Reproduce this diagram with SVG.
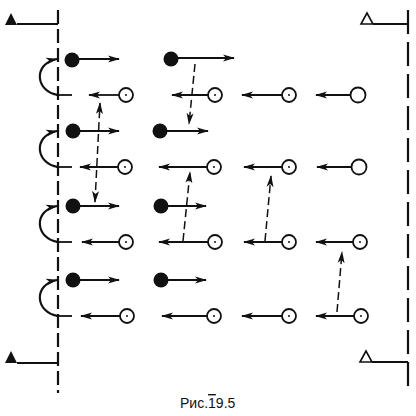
<svg xmlns="http://www.w3.org/2000/svg" width="416" height="416" viewBox="0 0 416 416">
<defs>
<marker id="ah" viewBox="0 0 12 8" refX="11" refY="4" markerWidth="12" markerHeight="8" markerUnits="userSpaceOnUse" orient="auto-start-reverse">
<path d="M0,0.5 L12,4 L0,7.5 L3,4 Z" fill="#111"/>
</marker>
</defs>
<style>
.bg{fill:#fff}
.axis{stroke:#111;stroke-width:2.2;fill:none}
.ar{stroke:#111;stroke-width:1.8;fill:none;marker-end:url(#ah)}
.da{stroke:#111;stroke-width:1.5;fill:none;stroke-dasharray:8 4;marker-end:url(#ah)}
.cv{stroke:#111;stroke-width:2.2;fill:none;marker-end:url(#ah)}
.tk{stroke:#111;stroke-width:1.8}
.fc{fill:#111}
.oc{fill:#fff;stroke:#111;stroke-width:1.8}
.dot{fill:#111}
.lbl{font-family:"Liberation Sans",Arial,sans-serif;font-size:14px;fill:#111}
</style>
<rect class="bg" width="416" height="416"/>
<g id="section-lines">
<line class="axis" x1="58" y1="10" x2="58" y2="393" stroke-dasharray="14 5"/>
<line class="axis" x1="408" y1="10" x2="408" y2="393" stroke-dasharray="24 8"/>
<line class="tk" x1="17" y1="24" x2="58" y2="24"/>
<path d="M5,25 L11,13 L17,25 Z" fill="#111"/>
<line class="tk" x1="17" y1="363" x2="58" y2="363"/>
<path d="M5,363 L11,351 L17,363 Z" fill="#111"/>
<line class="tk" x1="373" y1="24" x2="408" y2="24"/>
<path d="M361,24 L367,13 L373,24 Z" fill="none" stroke="#111" stroke-width="1.6"/>
<line class="tk" x1="372" y1="362" x2="408" y2="362"/>
<path d="M360,362 L366,351 L372,362 Z" fill="none" stroke="#111" stroke-width="1.6"/>
</g>
<g id="connectors">
<!-- horizontal arrows, filled rows -->
<line class="ar" x1="79" y1="59" x2="119" y2="59"/>
<line class="ar" x1="178" y1="58" x2="234" y2="58"/>
<line class="ar" x1="80" y1="131" x2="119" y2="131"/>
<line class="ar" x1="167" y1="131" x2="208" y2="131"/>
<line class="ar" x1="80" y1="206" x2="119" y2="206"/>
<line class="ar" x1="168" y1="206" x2="206" y2="206"/>
<line class="ar" x1="80" y1="280" x2="119" y2="280"/>
<line class="ar" x1="168" y1="280" x2="206" y2="280"/>
<!-- horizontal arrows, open rows -->
<line class="ar" x1="119" y1="95" x2="89" y2="95"/>
<line class="ar" x1="208" y1="95" x2="172" y2="95"/>
<line class="ar" x1="282" y1="95" x2="242" y2="95"/>
<line class="ar" x1="350" y1="95" x2="316" y2="95"/>
<line class="ar" x1="118" y1="167" x2="80" y2="167"/>
<line class="ar" x1="207" y1="167" x2="159" y2="167"/>
<line class="ar" x1="282" y1="167" x2="244" y2="167"/>
<line class="ar" x1="352" y1="167" x2="317" y2="167"/>
<line class="ar" x1="119" y1="242" x2="82" y2="242"/>
<line class="ar" x1="208" y1="242" x2="159" y2="242"/>
<line class="ar" x1="282" y1="242" x2="244" y2="242"/>
<line class="ar" x1="353" y1="242" x2="316" y2="242"/>
<line class="ar" x1="120" y1="316" x2="81" y2="316"/>
<line class="ar" x1="207" y1="316" x2="162" y2="316"/>
<line class="ar" x1="282" y1="316" x2="242" y2="316"/>
<line class="ar" x1="354" y1="316" x2="316" y2="316"/>
<!-- curved arrows at left -->
<line class="tk" x1="56" y1="95" x2="72" y2="95"/>
<path class="cv" d="M58,95 C36,92 32,64 57,59"/>
<line class="tk" x1="56" y1="167" x2="72" y2="167"/>
<path class="cv" d="M58,167 C36,164 32,136 57,131"/>
<line class="tk" x1="56" y1="242" x2="72" y2="242"/>
<path class="cv" d="M58,242 C36,239 32,211 57,206"/>
<line class="tk" x1="56" y1="316" x2="72" y2="316"/>
<path class="cv" d="M58,316 C36,313 32,285 57,280"/>
<!-- dashed transfer arrows -->
<line class="da" x1="95" y1="202" x2="100" y2="103" style="marker-start:url(#ah)"/>
<line class="da" x1="195" y1="64" x2="189" y2="124"/>
<line class="da" x1="183" y1="241" x2="190" y2="172"/>
<line class="da" x1="265" y1="241" x2="271" y2="176"/>
<line class="da" x1="337" y1="312" x2="342" y2="252"/>
</g>
<g id="filled-particles">
<circle class="fc" cx="72" cy="60" r="7.5"/>
<circle class="fc" cx="171" cy="59" r="7.5"/>
<circle class="fc" cx="73" cy="131" r="7.5"/>
<circle class="fc" cx="160" cy="131" r="7.5"/>
<circle class="fc" cx="73" cy="206" r="7.5"/>
<circle class="fc" cx="161" cy="206" r="7.5"/>
<circle class="fc" cx="73" cy="280" r="7.5"/>
<circle class="fc" cx="161" cy="280" r="7.5"/>
</g>
<g id="open-particles">
<circle class="oc" cx="126" cy="95" r="7"/><circle class="dot" cx="126" cy="95" r="1"/>
<circle class="oc" cx="215" cy="95" r="7"/><circle class="dot" cx="215" cy="95" r="1"/>
<circle class="oc" cx="289" cy="95" r="7"/><circle class="dot" cx="289" cy="95" r="1"/>
<circle class="oc" cx="358" cy="95" r="7.5"/>
<circle class="oc" cx="125" cy="167" r="7"/><circle class="dot" cx="125" cy="167" r="1"/>
<circle class="oc" cx="214" cy="167" r="7"/><circle class="dot" cx="214" cy="167" r="1"/>
<circle class="oc" cx="289" cy="167" r="7"/><circle class="dot" cx="289" cy="167" r="1"/>
<circle class="oc" cx="359" cy="167" r="7.5"/>
<circle class="oc" cx="126" cy="242" r="7"/><circle class="dot" cx="126" cy="242" r="1"/>
<circle class="oc" cx="215" cy="242" r="7"/><circle class="dot" cx="215" cy="242" r="1"/>
<circle class="oc" cx="289" cy="242" r="7"/><circle class="dot" cx="289" cy="242" r="1"/>
<circle class="oc" cx="360" cy="242" r="7"/><circle class="dot" cx="360" cy="242" r="1"/>
<circle class="oc" cx="127" cy="316" r="7"/><circle class="dot" cx="127" cy="316" r="1"/>
<circle class="oc" cx="214" cy="316" r="7"/><circle class="dot" cx="214" cy="316" r="1"/>
<circle class="oc" cx="289" cy="316" r="7"/><circle class="dot" cx="289" cy="316" r="1"/>
<circle class="oc" cx="361" cy="316" r="7"/><circle class="dot" cx="361" cy="316" r="1"/>
</g>
<g id="caption">
<text class="lbl" x="180" y="408">Рис.<tspan text-decoration="overline">1</tspan>9.5</text>
</g>
</svg>
